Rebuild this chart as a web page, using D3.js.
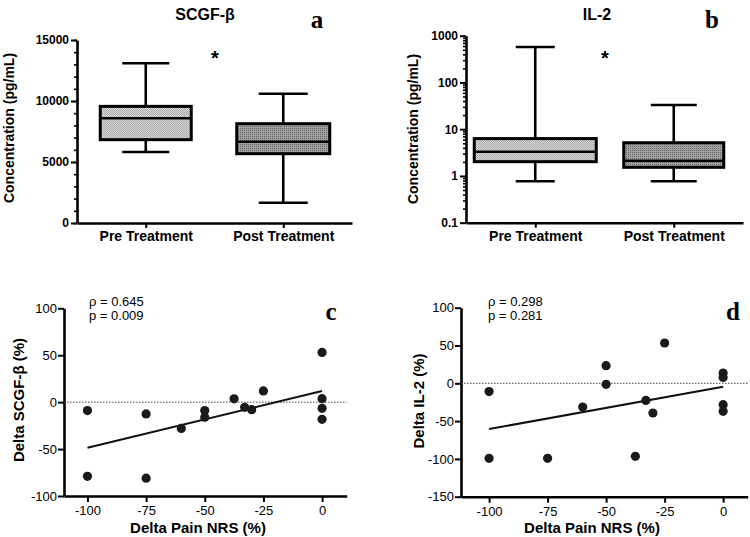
<!DOCTYPE html>
<html>
<head>
<meta charset="utf-8">
<script src="https://cdn.jsdelivr.net/npm/d3@7"></script>
<style>
  body { margin: 0; background: #fff; }
  svg { display: block; font-family: "Liberation Sans", Arial, sans-serif; }
</style>
</head>
<body>
<div id="chart"></div>
<script>
// box plot data: [min, q1, median, q3, max]
const boxGroups = ["Pre Treatment", "Post Treatment"];
const scgfBox = [[5820, 6830, 8580, 9560, 13100], [1660, 5680, 6660, 8140, 10600]];
const il2Box = [[0.77, 2.02, 3.3, 6.3, 573], [0.77, 1.53, 2.12, 5.14, 33]];

// scatter data: delta pain NRS vs delta cytokine
const painC = [-100, -100, -75, -75, -60, -50, -50, -37.5, -33, -30, -25, 0, 0, 0, 0];
const scgfDelta = [-9, -79, -12.5, -81, -28, -9, -16, 3.5, -5.5, -8, 12, 53, 3.7, -6.6, -18.3];
const scgfFit = [[-100, -48.5], [0, 11.9]];

const painD = [-100, -100, -75, -60, -50, -50, -37.5, -33, -30, -25, 0, 0, 0, 0];
const il2Delta = [-11, -99.3, -99.3, -31.4, 23.3, -1.4, -96.6, -22.6, -39.3, 53.3, 13.6, 7.8, -28.3, -37.1];
const il2Fit = [[-100, -60.5], [0, -4.5]];

const svg = d3.select("#chart").append("svg")
    .attr("width", 750)
    .attr("height", 537);

const defs = svg.append("defs");

// light checker for pre treatment
const p1 = defs.append("pattern").attr("id", "preFill")
    .attr("width", 2).attr("height", 2).attr("patternUnits", "userSpaceOnUse");
p1.append("rect").attr("width", 2).attr("height", 2).attr("fill", "#d8d8d8");
p1.append("rect").attr("width", 1).attr("height", 1).attr("fill", "#ababab");
p1.append("rect").attr("x", 1).attr("y", 1).attr("width", 1).attr("height", 1).attr("fill", "#ababab");

// darker dots for post treatment
const p2 = defs.append("pattern").attr("id", "postFill")
    .attr("width", 2).attr("height", 2).attr("patternUnits", "userSpaceOnUse");
p2.append("rect").attr("width", 2).attr("height", 2).attr("fill", "#a2a2a2");
p2.append("rect").attr("width", 1).attr("height", 1).attr("fill", "#666");

// plain hyphen for negatives, like the original figure
const plainNum = d => String(d);

function styleAxis(g, fontSize, bold) {
    g.select(".domain").attr("stroke", "#000").attr("stroke-width", 2.6);
    g.selectAll(".tick line").attr("stroke", "#000").attr("stroke-width", 2);
    g.selectAll(".tick text")
        .attr("fill", "#000")
        .style("font-size", fontSize + "px")
        .style("font-weight", bold ? "bold" : "normal")
        .style("font-family", "'Liberation Sans', Arial, sans-serif");
}

function drawBoxPanel(opts) {
    const g = svg.append("g");
    const x = d3.scalePoint().domain(boxGroups).range(opts.xRange).padding(0.5);
    const y = opts.y;

    // minor ticks first
    const minor = g.append("g")
        .attr("transform", `translate(${opts.xRange[0]},0)`)
        .call(d3.axisLeft(y).tickValues(opts.minorTicks).tickSize(3).tickFormat(""));
    minor.select(".domain").remove();
    minor.selectAll(".tick line").attr("stroke", "#000").attr("stroke-width", 1.6);

    const yAxis = g.append("g")
        .attr("transform", `translate(${opts.xRange[0]},0)`)
        .call(d3.axisLeft(y).tickValues(opts.majorTicks).tickSize(6).tickSizeOuter(0)
            .tickPadding(2).tickFormat(opts.fmt));
    styleAxis(yAxis, 12, true);

    const xAxis = g.append("g")
        .attr("transform", `translate(0,${y.range()[0]})`)
        .call(d3.axisBottom(x).tickSize(5).tickSizeOuter(0).tickPadding(3.5));
    styleAxis(xAxis, 14, true);

    boxGroups.forEach(function (name, i) {
        const s = opts.data[i];
        const cx = x(name);
        const bw = opts.boxWidths[i];
        const cw = opts.capWidths[i];
        const line = (x1, y1, x2, y2) => g.append("line")
            .attr("x1", x1).attr("y1", y1).attr("x2", x2).attr("y2", y2)
            .attr("stroke", "#000").attr("stroke-width", 2.6);
        // whiskers
        line(cx, y(s[0]), cx, y(s[1]));
        line(cx, y(s[3]), cx, y(s[4]));
        line(cx - cw / 2, y(s[0]), cx + cw / 2, y(s[0]));
        line(cx - cw / 2, y(s[4]), cx + cw / 2, y(s[4]));
        // box
        g.append("rect")
            .attr("x", cx - bw / 2)
            .attr("y", y(s[3]))
            .attr("width", bw)
            .attr("height", y(s[1]) - y(s[3]))
            .attr("fill", i === 0 ? "url(#preFill)" : "url(#postFill)")
            .attr("stroke", "#000")
            .attr("stroke-width", 3);
        line(cx - bw / 2, y(s[2]), cx + bw / 2, y(s[2]));
    });

    // title, y label, star, panel letter
    g.append("text")
        .attr("x", opts.titleX).attr("y", 20)
        .attr("text-anchor", "middle")
        .style("font-size", "16px").style("font-weight", "bold")
        .text(opts.title);
    g.append("text")
        .attr("transform", `translate(${opts.yLabelX},${opts.yLabelY}) rotate(-90)`)
        .attr("text-anchor", "middle")
        .style("font-size", "14px").style("font-weight", "bold")
        .text("Concentration (pg/mL)");
    g.append("text")
        .attr("x", opts.starX).attr("y", 65)
        .attr("text-anchor", "middle")
        .style("font-size", "20px").style("font-weight", "bold")
        .text("*");
    g.append("text")
        .attr("x", opts.letterX).attr("y", 28)
        .attr("text-anchor", "middle")
        .style("font-family", "'Liberation Serif', 'Times New Roman', serif")
        .style("font-size", "25px").style("font-weight", "bold")
        .text(opts.letter);
}

function drawScatterPanel(opts) {
    const g = svg.append("g");
    const x = opts.x, y = opts.y;

    const yAxis = g.append("g")
        .attr("transform", `translate(${x.range()[0]},0)`)
        .call(d3.axisLeft(y).tickValues(opts.yTicks).tickSize(6).tickSizeOuter(0)
            .tickPadding(1).tickFormat(plainNum));
    styleAxis(yAxis, 13, false);

    const xAxis = g.append("g")
        .attr("transform", `translate(0,${y.range()[0]})`)
        .call(d3.axisBottom(x).tickValues([-100, -75, -50, -25, 0]).tickSize(6).tickSizeOuter(0)
            .tickPadding(4).tickFormat(plainNum));
    styleAxis(xAxis, 13, false);

    // zero reference line
    g.append("line")
        .attr("x1", x.range()[0]).attr("x2", x.range()[1])
        .attr("y1", y(0)).attr("y2", y(0))
        .attr("stroke", "#444").attr("stroke-width", 1)
        .attr("stroke-dasharray", "1.5,1.5");

    // fit line
    g.append("line")
        .attr("x1", x(opts.fit[0][0])).attr("y1", y(opts.fit[0][1]))
        .attr("x2", x(opts.fit[1][0])).attr("y2", y(opts.fit[1][1]))
        .attr("stroke", "#111").attr("stroke-width", 2);

    g.selectAll("circle.pt")
        .data(opts.xs.map((d, i) => [d, opts.ys[i]]))
        .enter().append("circle")
        .attr("class", "pt")
        .attr("cx", d => x(d[0]))
        .attr("cy", d => y(d[1]))
        .attr("r", 4.6)
        .attr("fill", "#1a1a1a");

    g.append("text")
        .attr("x", opts.statX).attr("y", 306)
        .style("font-size", "13px")
        .text("ρ = " + opts.rho);
    g.append("text")
        .attr("x", opts.statX).attr("y", 320)
        .style("font-size", "13px")
        .text("p = " + opts.p);

    g.append("text")
        .attr("x", opts.letterX).attr("y", 320)
        .attr("text-anchor", "middle")
        .style("font-family", "'Liberation Serif', 'Times New Roman', serif")
        .style("font-size", "25px").style("font-weight", "bold")
        .text(opts.letter);

    g.append("text")
        .attr("x", opts.xLabelX).attr("y", 533)
        .attr("text-anchor", "middle")
        .style("font-size", "15px").style("font-weight", "bold")
        .text("Delta Pain NRS (%)");
    g.append("text")
        .attr("transform", `translate(${opts.yLabelX},${opts.yLabelY}) rotate(-90)`)
        .attr("text-anchor", "middle")
        .style("font-size", "15px").style("font-weight", "bold")
        .text(opts.yLabel);
}

drawBoxPanel({
    xRange: [77, 352],
    y: d3.scaleLinear().domain([0, 15000]).range([223, 40]),
    majorTicks: [0, 5000, 10000, 15000],
    minorTicks: d3.range(0, 15001, 1000),
    fmt: d3.format("d"),
    data: scgfBox,
    boxWidths: [91, 93],
    capWidths: [47, 49],
    title: "SCGF-β", titleX: 205,
    yLabelX: 14, yLabelY: 128,
    starX: 215, letter: "a", letterX: 317
});

const il2Minor = [];
[0.1, 1, 10, 100].forEach(b => d3.range(2, 10).forEach(k => il2Minor.push(b * k)));
drawBoxPanel({
    xRange: [466, 743],
    y: d3.scaleLog().domain([0.1, 1000]).range([222.7, 35.7]),
    majorTicks: [0.1, 1, 10, 100, 1000],
    minorTicks: il2Minor,
    fmt: d => (d < 1 ? d3.format(".1f")(d) : d3.format("d")(d)),
    data: il2Box,
    boxWidths: [122, 100],
    capWidths: [39, 46],
    title: "IL-2", titleX: 597,
    yLabelX: 418, yLabelY: 129,
    starX: 605, letter: "b", letterX: 712
});

drawScatterPanel({
    x: d3.scaleLinear().domain([-110, 10.5]).range([64, 346.7]),
    y: d3.scaleLinear().domain([-100, 100]).range([496, 308.3]),
    yTicks: [-100, -50, 0, 50, 100],
    xs: painC, ys: scgfDelta, fit: scgfFit,
    rho: "0.645", p: "0.009", statX: 89,
    letter: "c", letterX: 331,
    xLabelX: 198, yLabel: "Delta SCGF-β (%)", yLabelX: 24, yLabelY: 400
});

drawScatterPanel({
    x: d3.scaleLinear().domain([-112, 10.5]).range([461, 747.7]),
    y: d3.scaleLinear().domain([-150, 100]).range([496.7, 307.7]),
    yTicks: [-150, -100, -50, 0, 50, 100],
    xs: painD, ys: il2Delta, fit: il2Fit,
    rho: "0.298", p: "0.281", statX: 488,
    letter: "d", letterX: 733,
    xLabelX: 592, yLabel: "Delta IL-2 (%)", yLabelX: 424, yLabelY: 401
});
</script>
</body>
</html>
